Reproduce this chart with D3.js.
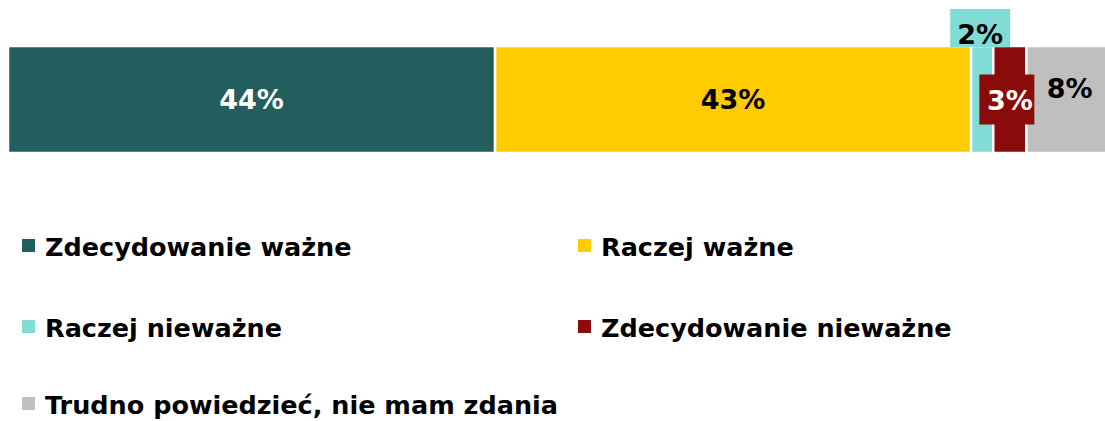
<!DOCTYPE html>
<html>
<head>
<meta charset="utf-8">
<script src="https://cdn.jsdelivr.net/npm/d3@7"></script>
<style>
  html, body { margin: 0; padding: 0; background: #ffffff; }
  svg { display: block; }
  text { font-family: "DejaVu Sans", sans-serif; font-weight: bold; }
</style>
</head>
<body>
<svg id="chart" width="1105" height="421"></svg>
<script>
// ---- data ----
const categories = ["Zdecydowanie ważne", "Raczej ważne", "Raczej nieważne", "Zdecydowanie nieważne", "Trudno powiedzieć, nie mam zdania"];
const values = [44, 43, 2, 3, 8];
const valueLabels = ["44%", "43%", "2%", "3%", "8%"];
const colors = ["#225e5e", "#ffcc00", "#80dcd4", "#8b0a0a", "#bfbfbf"];
const labelColors = ["#ffffff", "#000000", "#000000", "#ffffff", "#000000"];

// ---- layout / style ----
const W = 1105, H = 421;
const svg = d3.select("#chart");
const x = d3.scaleLinear().domain([0, 100]).range([8, 1115]);
const y = d3.scaleBand().domain(["bar"]).range([46, 153]).padding(0);

// label placement tweaks (dx, dy in px from segment centre; box = callout box; tdy = text offset in box)
const labelStyle = [
  { dx: 0, dy: 0, tdy: 0, box: null },
  { dx: 0, dy: 0, tdy: 0, box: null },
  { dx: -2, dy: -71.5, tdy: 6, box: { w: 60, h: 38, fill: colors[2] } },
  { dx: -3, dy: 0, tdy: 1, box: { w: 55, h: 50, fill: colors[3] } },
  { dx: -1, dy: -11, tdy: 0, box: null }
];

let cum = 0;
const segs = values.map((v, i) => {
  const s = { i, v, x0: cum, x1: cum + v };
  cum += v;
  return s;
});

svg.append("g").selectAll("rect").data(segs).join("rect")
  .attr("x", d => x(d.x0))
  .attr("y", y("bar"))
  .attr("width", d => x(d.x1) - x(d.x0))
  .attr("height", y.bandwidth())
  .attr("fill", d => colors[d.i])
  .attr("stroke", "#ffffff")
  .attr("stroke-width", 2.5);

const cy = y("bar") + y.bandwidth() / 2;
const lab = svg.append("g").selectAll("g").data(segs).join("g")
  .attr("transform", d => {
    const st = labelStyle[d.i];
    return `translate(${(x(d.x0) + x(d.x1)) / 2 + st.dx},${cy + st.dy})`;
  });

lab.filter(d => labelStyle[d.i].box).append("rect")
  .attr("x", d => -labelStyle[d.i].box.w / 2)
  .attr("y", d => -labelStyle[d.i].box.h / 2)
  .attr("width", d => labelStyle[d.i].box.w)
  .attr("height", d => labelStyle[d.i].box.h)
  .attr("fill", d => labelStyle[d.i].box.fill);

lab.append("text")
  .attr("text-anchor", "middle")
  .attr("dominant-baseline", "central")
  .attr("x", d => d.i === 3 ? 3 : 0)
  .attr("y", d => labelStyle[d.i].tdy)
  .attr("font-size", 27)
  .attr("fill", d => labelColors[d.i])
  .text(d => valueLabels[d.i]);

// ---- legend ----
const colX = [22, 578];
const rowY = [256, 337, 414];
const leg = svg.append("g").selectAll("g").data(categories).join("g")
  .attr("transform", (d, i) => `translate(${colX[i % 2]},${rowY[Math.floor(i / 2)]})`);
leg.append("rect")
  .attr("x", 0).attr("y", -17).attr("width", 13).attr("height", 13)
  .attr("fill", (d, i) => colors[i]);
leg.append("text")
  .attr("x", 23).attr("y", 0)
  .attr("font-size", 25.5)
  .attr("fill", "#000000")
  .text(d => d);
</script>
</body>
</html>
